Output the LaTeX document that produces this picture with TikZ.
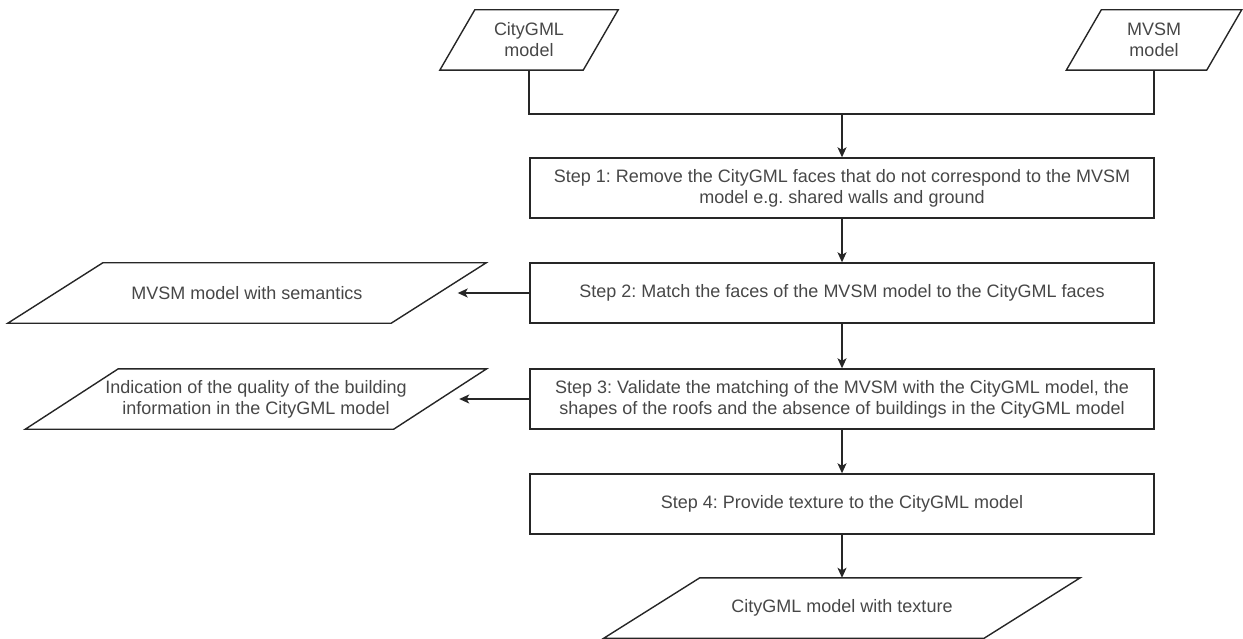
\documentclass[tikz,border=0pt]{standalone}
\usepackage{fontspec}
\setmainfont{Liberation Sans}
\usetikzlibrary{arrows.meta,calc}
\frenchspacing

\tikzset{
  frame/.style={draw=black!85, line width=1.4pt, line join=miter},
  stepbox/.style={frame, minimum width=624, minimum height=60, inner sep=0,
    align=center, text=black!72, font=\fontsize{18}{21}\selectfont},
  io/.style={minimum height=60, inner sep=0, align=center, text=black!72,
    font=\fontsize{18}{21}\selectfont},
  link/.style={draw=black!85, line width=1.4pt},
  arrow/.style={link, -{Stealth[length=10pt, width=9pt, inset=2.5pt]}},
}

% parallelogram outline around an io node: #1 node name, #2 half of the slant
\newcommand\paraframe[2]{%
  \draw[frame] ($(#1.north west)+(#2,0)$) -- ($(#1.north east)+(#2,0)$)
    -- ($(#1.south east)-(#2,0)$) -- ($(#1.south west)-(#2,0)$) -- cycle;}

\begin{document}
\begin{tikzpicture}[x=1pt, y=-1pt]
\useasboundingbox (0,0) rectangle (1243,639);

% inputs
\node[io, minimum width=143] (cg) at (529,40) {CityGML\\model};
\paraframe{cg}{17.5}
\node[io, minimum width=140] (mv) at (1154,40) {MVSM\\model};
\paraframe{mv}{17.5}

% processing steps
\node[stepbox] (s1) at (842,188)
  {Step 1: Remove the CityGML faces that do not correspond to the MVSM\\model e.g. shared walls and ground};
\node[stepbox] (s2) at (842,293)
  {Step 2: Match the faces of the MVSM model to the CityGML faces};
\node[stepbox] (s3) at (842,399)
  {Step 3: Validate the matching of the MVSM with the CityGML model, the\\shapes of the roofs and the absence of buildings in the CityGML model};
\node[stepbox] (s4) at (842,504)
  {Step 4: Provide texture to the CityGML model};

% outputs
\node[io, minimum width=383] (sem) at (247,293) {MVSM model with semantics};
\paraframe{sem}{47.5}
\node[io, minimum width=368] (qual) at (256,399)
  {Indication of the quality of the building\\information in the CityGML model};
\paraframe{qual}{46.5}
\node[io, minimum width=380] (tex) at (842,608) {CityGML model with texture};
\paraframe{tex}{48}

% connectors
\coordinate (join) at (842,114);
\draw[link] (cg.south) |- (join) -| (mv.south);
\draw[arrow] (join) -- (s1.north);
\draw[arrow] (s1) -- (s2);
\draw[arrow] (s2) -- (s3);
\draw[arrow] (s3) -- (s4);
\draw[arrow] (s4) -- (tex);
\draw[arrow, shorten >=19pt] (s2.west) -- (sem.east);
\draw[arrow, shorten >=19pt] (s3.west) -- (qual.east);
\end{tikzpicture}
\end{document}
